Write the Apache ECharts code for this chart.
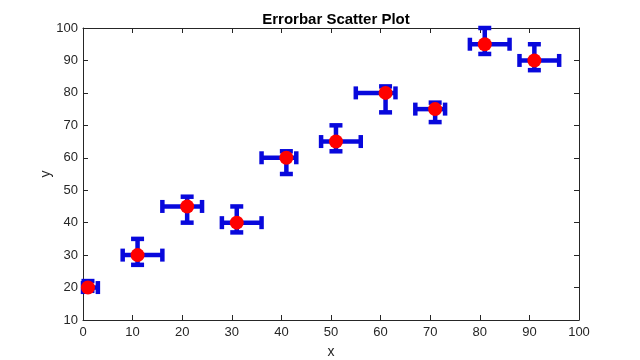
<!DOCTYPE html>
<html>
<head>
<meta charset="utf-8">
<script src="https://cdn.jsdelivr.net/npm/echarts@6/dist/echarts.min.js"></script>
<style>
html,body{margin:0;padding:0;background:#fff;}
#chart{width:640px;height:360px;}
</style>
</head>
<body>
<div id="chart"></div>
<script>
var xVals = [1, 11, 21, 31, 41, 51, 61, 71, 81, 91];
var yVals = [20, 30, 45, 40, 60, 65, 80, 75, 95, 90];
var yNeg = [1, 3, 5, 3, 5, 3, 6, 4, 3, 3];
var yPos = [2, 5, 3, 5, 2, 5, 2, 2, 5, 5];
var xNeg = [1, 3, 5, 3, 5, 3, 6, 4, 3, 3];
var xPos = [2, 5, 3, 5, 2, 5, 2, 2, 5, 5];
var xTicks = [0, 10, 20, 30, 40, 50, 60, 70, 80, 90, 100];
var yTicks = [10, 20, 30, 40, 50, 60, 70, 80, 90, 100];

var errData = xVals.map(function (x, i) {
  return [x, yVals[i], yNeg[i], yPos[i], xNeg[i], xPos[i]];
});
var ptData = xVals.map(function (x, i) { return [x, yVals[i]]; });

var FONT = 'Liberation Sans, Arial, Helvetica, sans-serif';
var chart = echarts.init(document.getElementById('chart'), null, {renderer: 'canvas'});

function renderErr(params, api) {
  var x = api.value(0), y = api.value(1);
  var yn = api.value(2), yp = api.value(3), xn = api.value(4), xp = api.value(5);
  var top = api.coord([x, y + yp]);
  var bot = api.coord([x, y - yn]);
  var lef = api.coord([x - xn, y]);
  var rig = api.coord([x + xp, y]);
  var h = 6.5;
  var st = {stroke: '#0808dc', lineWidth: 4.5, fill: null};
  function L(x1, y1, x2, y2) {
    return {type: 'line', shape: {x1: x1, y1: y1, x2: x2, y2: y2}, style: st};
  }
  return {
    type: 'group',
    children: [
      L(top[0], top[1], bot[0], bot[1]),
      L(top[0] - h, top[1], top[0] + h, top[1]),
      L(bot[0] - h, bot[1], bot[0] + h, bot[1]),
      L(lef[0], lef[1], rig[0], rig[1]),
      L(lef[0], lef[1] - h, lef[0], lef[1] + h),
      L(rig[0], rig[1] - h, rig[0], rig[1] + h)
    ]
  };
}

var axisCommon = {
  axisLine: {show: true, onZero: false, lineStyle: {color: '#262626', width: 1}},
  axisTick: {show: true, inside: true, length: 5, lineStyle: {color: '#262626'}},
  splitLine: {show: false}
};

chart.setOption({
  backgroundColor: '#ffffff',
  animation: false,
  title: {
    text: 'Errorbar Scatter Plot',
    left: 331, textAlign: 'center', top: 7,
    textStyle: {fontFamily: FONT, fontSize: 15, fontWeight: 'bold', color: '#000'}
  },
  grid: {left: 83, right: 61, top: 28, bottom: 40, containLabel: false, outerBoundsMode: 'none'},
  xAxis: [
    Object.assign({
      type: 'value', min: xTicks[0], max: xTicks[xTicks.length - 1], interval: 10,
      name: 'x', nameLocation: 'middle', nameGap: 25, nameMoveOverlap: false,
      nameTextStyle: {fontFamily: FONT, fontSize: 14, color: '#262626'},
      axisLabel: {fontFamily: FONT, fontSize: 13, color: '#262626', margin: 6}
    }, axisCommon),
    Object.assign({
      type: 'value', position: 'top', min: xTicks[0], max: xTicks[xTicks.length - 1], interval: 10,
      axisLabel: {show: false}
    }, axisCommon)
  ],
  yAxis: [
    Object.assign({
      type: 'value', min: yTicks[0], max: yTicks[yTicks.length - 1], interval: 10,
      name: 'y', nameLocation: 'middle', nameGap: 30, nameMoveOverlap: false,
      nameTextStyle: {fontFamily: FONT, fontSize: 14, color: '#262626'},
      axisLabel: {fontFamily: FONT, fontSize: 13, color: '#262626', margin: 5}
    }, axisCommon),
    Object.assign({
      type: 'value', position: 'right', min: yTicks[0], max: yTicks[yTicks.length - 1], interval: 10,
      axisLabel: {show: false}
    }, axisCommon)
  ],
  series: [
    {
      type: 'custom',
      renderItem: renderErr,
      data: errData,
      encode: {x: 0, y: 1},
      clip: false,
      z: 2
    },
    {
      type: 'scatter',
      data: ptData,
      symbol: 'circle',
      symbolSize: 14,
      itemStyle: {color: '#ff0000', opacity: 1},
      z: 3
    }
  ]
});
</script>
</body>
</html>
